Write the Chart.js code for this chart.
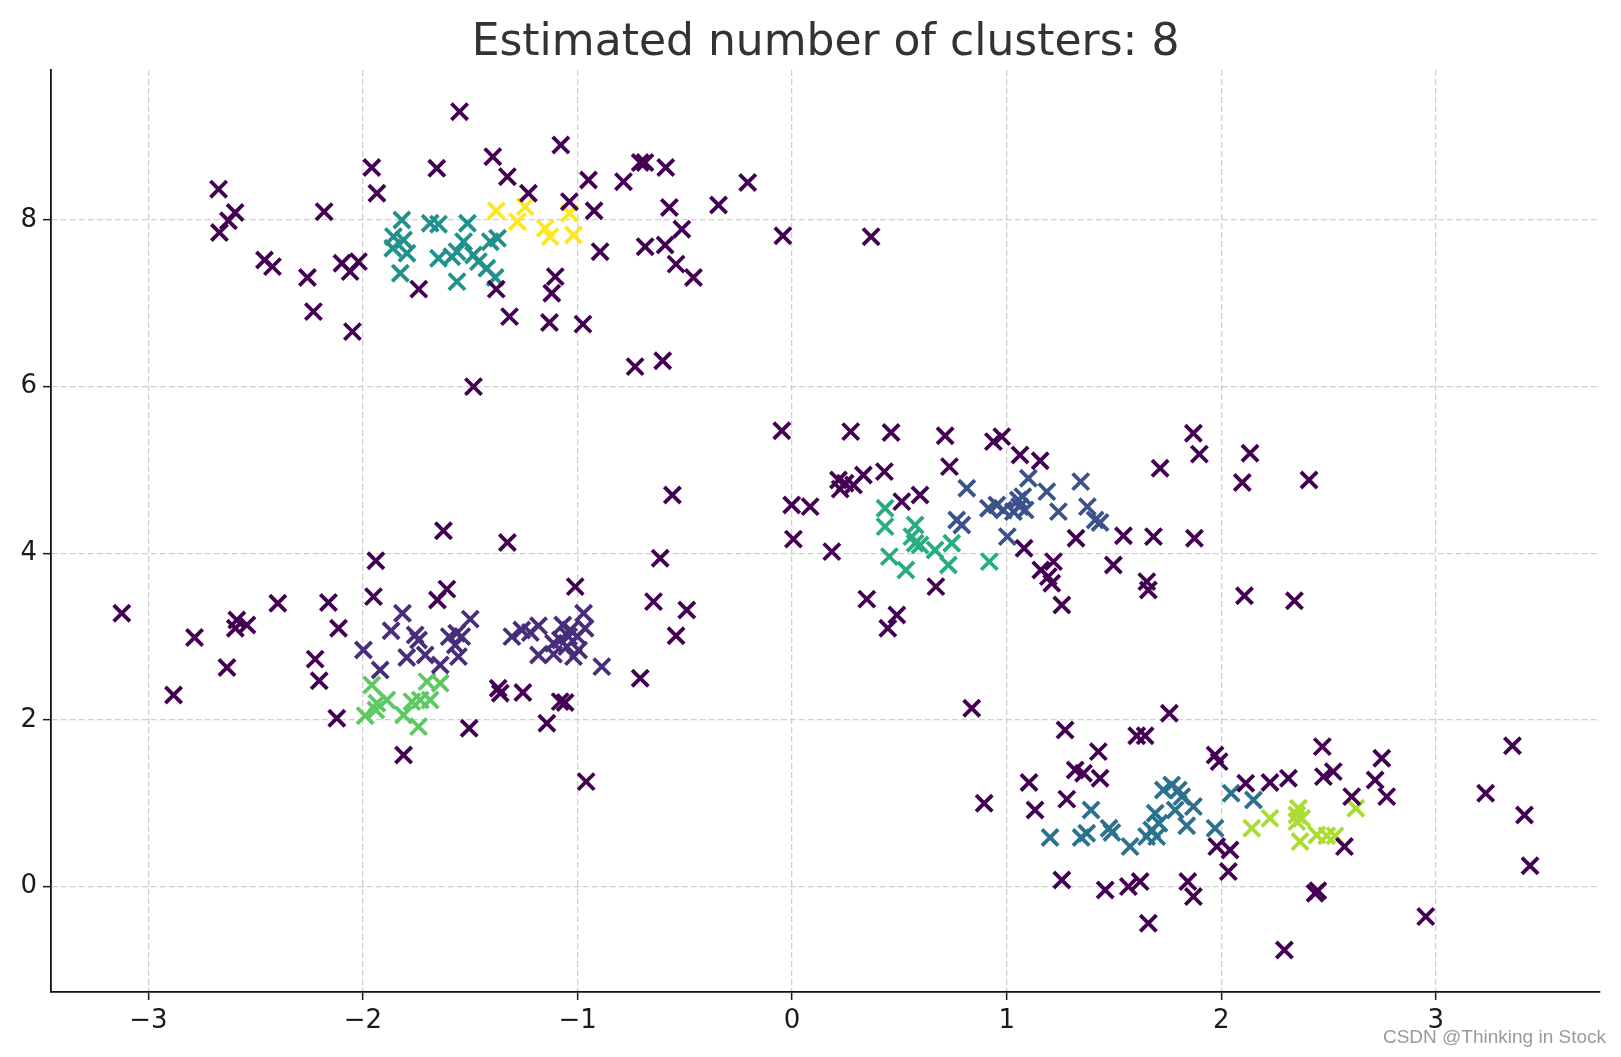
<!DOCTYPE html>
<html><head><meta charset="utf-8">
<script src="https://cdn.jsdelivr.net/npm/chart.js@4.4.1/dist/chart.umd.min.js"></script>
<style>html,body{margin:0;padding:0;background:#fff;overflow:hidden}</style>
</head><body>
<canvas id="c" width="1621" height="1057" style="display:block;width:1621px;height:1057px"></canvas>
<script>
const TITLE = 'Estimated number of clusters: 8';
const WATERMARK = 'CSDN @Thinking in Stock';
const xTicks = [-3, -2, -1, 0, 1, 2, 3];
const yTicks = [0, 2, 4, 6, 8];
const xRange = [-3.454, 3.765];
const yRange = [-1.265, 9.80];

// noise points (label -1)
const noise = [
 [-2.673,8.37],[-2.596,8.09],[-2.627,7.99],[-2.669,7.85],[-2.459,7.52],[-2.422,7.44],[-2.259,7.31],[-2.181,8.10],[-2.231,6.90],[-2.098,7.48],[-2.060,7.38],[-2.021,7.50],[-2.049,6.66],[-1.959,8.63],[-1.935,8.32],[-1.74,7.17],
 [-1.550,9.30],[-1.656,8.62],[-1.395,8.76],[-1.327,8.52],[-1.078,8.90],[-1.229,8.32],[-0.949,8.48],[-1.038,8.22],[-0.923,8.11],[-0.786,8.46],[-0.708,8.69],[-0.686,8.69],[-0.895,7.62],[-0.685,7.68],[-1.379,7.17],[-1.104,7.32],[-1.120,7.12],[-1.317,6.84],[-1.131,6.77],[-0.975,6.75],[-0.732,6.24],[-0.603,6.31],[-1.485,6.00],
 [-0.589,8.63],[-0.572,8.15],[-0.343,8.18],[-0.207,8.45],[-0.514,7.89],[-0.592,7.70],[-0.541,7.47],[-0.460,7.31],[-0.043,7.81],[0.368,7.80],
 [-3.124,3.28],[-2.785,2.99],[-2.883,2.30],[-2.634,2.63],[-2.588,3.20],[-2.541,3.14],[-2.595,3.10],[-2.397,3.40],
 [-1.625,4.27],[-1.327,4.13],[-1.940,3.91],[-1.951,3.48],[-1.609,3.57],[-1.653,3.44],[-2.161,3.41],[-2.114,3.10],[-2.223,2.73],[-2.204,2.47],[-2.122,2.02],[-1.811,1.58],[-1.505,1.90],[-1.37,2.38],[-1.36,2.32],
 [-0.558,4.70],[-0.615,3.94],[-1.011,3.60],[-0.646,3.42],[-0.491,3.32],[-0.541,3.01],[-0.708,2.50],[-1.255,2.33],[-1.081,2.22],[-1.058,2.21],[-1.143,1.96],[-0.960,1.26],
 [-0.048,5.47],[0.273,5.46],[0.461,5.45],[0.713,5.41],[0.733,5.04],[0.430,4.98],[0.332,4.94],[0.216,4.88],[0.247,4.84],[0.286,4.82],[0.224,4.77],[0.596,4.70],[0.511,4.62],[-0.002,4.58],[0.084,4.56],[0.006,4.17],[0.185,4.02],[0.670,3.60],[0.348,3.45],[0.488,3.26],[0.446,3.10],
 [0.938,5.34],[0.977,5.40],[1.062,5.18],[1.156,5.11],[1.323,4.18],[1.544,4.21],[1.081,4.06],[1.218,3.90],[1.159,3.80],[1.194,3.72],[1.210,3.64],[1.257,3.38],[1.497,3.86],[0.837,2.14],
 [1.870,5.44],[1.898,5.19],[1.715,5.02],[2.134,5.20],[2.098,4.85],[2.409,4.88],[1.684,4.20],[1.875,4.18],[1.653,3.66],[1.660,3.56],[2.108,3.49],[2.341,3.43],[1.758,2.08],
 [1.272,1.88],[1.606,1.81],[1.645,1.81],[1.427,1.62],[1.319,1.40],[1.358,1.36],[1.435,1.30],[1.104,1.25],[1.280,1.05],[1.132,0.92],[0.895,1.00],[1.257,0.08],[1.459,-0.04],[1.567,0.00],[1.622,0.06],[1.660,-0.44],
 [1.971,1.58],[1.990,1.50],[2.114,1.24],[2.227,1.25],[2.313,1.30],[2.471,1.68],[2.476,1.32],[2.522,1.38],[1.979,0.48],[2.041,0.44],[2.033,0.18],[1.844,0.06],[1.870,-0.12],[2.437,-0.08],[2.45,-0.05],[2.294,-0.76],
 [2.748,1.54],[2.717,1.28],[2.608,1.08],[2.771,1.08],[2.574,0.48],[2.953,-0.36],[3.357,1.69],[3.232,1.12],[3.413,0.86],[3.439,0.25]
];
// cluster 0 (bottom-left, indigo)
const cluster0 = [
 [-1.816,3.28],[-1.869,3.07],[-1.998,2.84],[-1.920,2.60],[-1.757,3.02],[-1.741,2.96],[-1.796,2.75],[-1.710,2.78],[-1.640,2.66],[-1.598,3.00],[-1.563,3.04],[-1.54,3.0],[-1.570,2.90],[-1.555,2.76],[-1.500,3.21],
 [-1.306,3.00],[-1.260,3.08],[-1.182,3.13],[-1.22,3.05],[-1.069,3.14],[-1.034,3.08],[-0.972,3.28],[-0.965,3.10],[-1.112,2.92],[-1.08,2.96],[-1.042,3.00],[-1.050,2.88],[-1.182,2.78],[-1.112,2.79],[-1.019,2.76],[-0.995,2.84],[-0.887,2.64],[-1.0,3.0]
];
// cluster 1 (middle, blue)
const cluster1 = [
 [0.814,4.78],[1.101,4.90],[1.345,4.86],[1.187,4.74],[1.075,4.68],[0.915,4.54],[0.954,4.58],[0.985,4.52],[1.031,4.50],[1.06,4.56],[1.086,4.52],[1.054,4.64],[1.241,4.50],[1.376,4.56],[1.412,4.40],[1.435,4.37],[0.767,4.40],[0.791,4.34],[1.003,4.20]
];
// cluster 2 (bottom-right, teal blue)
const cluster2 = [
 [1.393,0.92],[1.202,0.59],[1.347,0.59],[1.373,0.64],[1.477,0.70],[1.49,0.65],[1.575,0.48],[1.730,1.16],[1.769,1.22],[1.800,1.16],[1.816,1.08],[1.870,0.96],[1.785,0.92],[1.692,0.88],[1.71,0.76],[1.676,0.68],[1.652,0.60],[1.699,0.60],[1.839,0.73],[1.971,0.70],[2.046,1.12],[2.150,1.04]
];
// cluster 3 (top-left, teal)
const cluster3 = [
 [-1.819,8.00],[-1.858,7.80],[-1.811,7.76],[-1.861,7.66],[-1.795,7.60],[-1.826,7.36],[-1.687,7.96],[-1.648,7.95],[-1.513,7.96],[-1.531,7.74],[-1.562,7.62],[-1.648,7.54],[-1.586,7.56],[-1.485,7.58],[-1.462,7.50],[-1.423,7.42],[-1.407,7.74],[-1.373,7.78],[-1.384,7.31],[-1.562,7.26]
];
// cluster 4 (middle, green)
const cluster4 = [
 [0.433,4.54],[0.433,4.32],[0.573,4.34],[0.558,4.20],[0.573,4.12],[0.596,4.10],[0.666,4.04],[0.744,4.12],[0.453,3.96],[0.530,3.80],[0.728,3.86],[0.919,3.90]
];
// cluster 5 (bottom-left, light green)
const cluster5 = [
 [-1.959,2.42],[-1.935,2.20],[-1.889,2.24],[-1.990,2.05],[-1.94,2.12],[-1.811,2.06],[-1.772,2.22],[-1.741,1.92],[-1.733,2.24],[-1.702,2.46],[-1.687,2.24],[-1.640,2.44]
];
// cluster 6 (bottom-right, yellow green)
const cluster6 = [
 [2.142,0.70],[2.227,0.82],[2.359,0.94],[2.352,0.86],[2.375,0.82],[2.352,0.78],[2.367,0.54],[2.445,0.62],[2.492,0.61],[2.53,0.61],[2.627,0.94]
];
// cluster 7 (top-left, yellow)
const cluster7 = [
 [-1.379,8.11],[-1.244,8.16],[-1.280,7.98],[-1.151,7.90],[-1.128,7.80],[-1.038,8.08],[-1.019,7.82]
];

const groups = [noise, cluster0, cluster1, cluster2, cluster3, cluster4, cluster5, cluster6, cluster7];
const groupNames = ['noise','0','1','2','3','4','5','6','7'];
const groupColors = ['#440154','#472d7b','#3b528b','#2c728e','#21918c','#27ad81','#5ec962','#aadc32','#fde725'];

const fmt = v => (v < 0 ? '\u2212' + Math.abs(v) : String(v));

const decor = {
  id: 'decor',
  afterDraw(chart) {
    const {ctx, chartArea} = chart;
    ctx.save();
    ctx.font = '44px "DejaVu Sans"';
    ctx.fillStyle = '#333333';
    ctx.textAlign = 'center';
    ctx.textBaseline = 'alphabetic';
    ctx.fillText(TITLE, (chartArea.left + chartArea.right) / 2, 55);
    ctx.font = '19px "Liberation Sans"';
    ctx.fillStyle = '#9a9a9a';
    ctx.textAlign = 'right';
    ctx.fillText(WATERMARK, 1606, 1043);
    ctx.restore();
  }
};

const axisCommon = (ticksArr) => ({
  type: 'linear',
  afterBuildTicks: s => { s.ticks = ticksArr.map(v => ({value: v})); },
  ticks: {
    font: {family: 'DejaVu Sans', size: 26},
    color: '#1a1a1a',
    padding: 6,
    callback: fmt,
    autoSkip: false,
    maxRotation: 0
  },
  grid: {
    color: '#cfcfcf',
    lineWidth: 1.3,
    tickColor: '#1a1a1a',
    tickWidth: 1.5,
    tickLength: 8
  },
  border: {display: true, color: '#111111', width: 1.8, dash: [6, 3]}
});

const xScale = Object.assign(axisCommon(xTicks), {min: xRange[0], max: xRange[1], afterFit: s => { s.height = 65; }});
const yScale = Object.assign(axisCommon(yTicks), {min: yRange[0], max: yRange[1], afterFit: s => { s.width = 51; }});

new Chart(document.getElementById('c'), {
  type: 'scatter',
  data: {
    datasets: groups.map((g, i) => ({
      label: groupNames[i],
      data: g.map(p => ({x: p[0], y: p[1]})),
      pointStyle: 'crossRot',
      pointRadius: 11.5,
      pointHoverRadius: 11.5,
      pointBorderWidth: 3.8,
      borderColor: groupColors[i],
      backgroundColor: groupColors[i]
    }))
  },
  options: {
    responsive: false,
    animation: false,
    devicePixelRatio: 1,
    events: [],
    layout: {padding: {top: 70, left: 0, right: 21, bottom: 0}},
    plugins: {legend: {display: false}, tooltip: {enabled: false}, title: {display: false}},
    scales: {x: xScale, y: yScale}
  },
  plugins: [decor]
});
</script>
</body></html>
